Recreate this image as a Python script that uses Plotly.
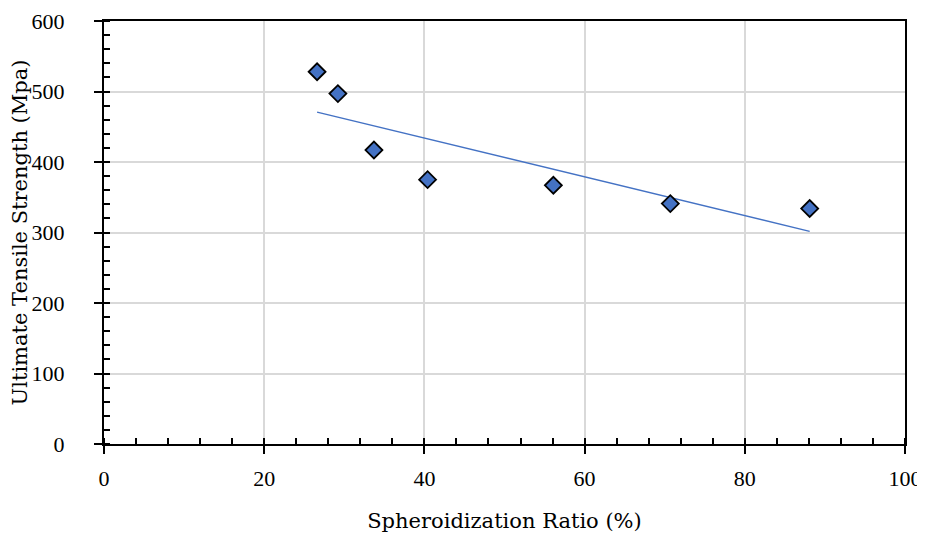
import numpy as np
import plotly.graph_objects as go

spheroidization = [26.6, 29.2, 33.7, 40.4, 56.1, 70.7, 88.1]
uts = [528, 497, 417, 375, 367, 341, 334]

x_ticks = [0, 20, 40, 60, 80, 100]
y_ticks = [0, 100, 200, 300, 400, 500, 600]

slope, intercept = np.polyfit(spheroidization, uts, 1)
trend_x = [min(spheroidization), max(spheroidization)]
trend_y = [slope * v + intercept for v in trend_x]

TICK_FONT = "Liberation Serif"
TITLE_FONT = "DejaVu Serif"
BLUE = "#4472C4"

fig = go.Figure()
fig.add_trace(go.Scatter(x=trend_x, y=trend_y, mode="lines",
                         line=dict(color=BLUE, width=1.5), showlegend=False, hoverinfo="skip"))
fig.add_trace(go.Scatter(x=spheroidization, y=uts, mode="markers",
                         marker=dict(symbol="diamond", size=13, color=BLUE,
                                     line=dict(color="black", width=1.8)),
                         showlegend=False))
fig.add_trace(go.Scatter(x=[0], y=[0], xaxis="x2", yaxis="y2", mode="markers",
                         marker=dict(opacity=0), showlegend=False, hoverinfo="skip"))

common = dict(showline=True, linecolor="black", linewidth=2, zeroline=False, automargin=False,
              tickfont=dict(family=TICK_FONT, size=22, color="black"))

# page body has an 8px margin: figure is offset by (8, 8)
fig.update_layout(
    width=917, height=525,
    margin=dict(l=96, r=20, t=13, b=89),
    paper_bgcolor="white", plot_bgcolor="white",
    xaxis=dict(range=[0, 100], tickvals=x_ticks, ticks="outside", ticklen=8, tickwidth=2,
               tickcolor="black", mirror=True, showgrid=True, gridcolor="#d9d9d9", gridwidth=1.5,
               ticklabelstandoff=6,
               minor=dict(dtick=4, ticks="inside", ticklen=6, tickwidth=2, tickcolor="black", showgrid=False),
               title=dict(text="Spheroidization Ratio (%)", font=dict(family=TITLE_FONT, size=21, color="black"),
                          standoff=26),
               **common),
    yaxis=dict(range=[0, 600], tickvals=y_ticks, ticks="outside", ticklen=8, tickwidth=2,
               tickcolor="black", mirror=True, showgrid=True, gridcolor="#d9d9d9", gridwidth=1.5,
               ticklabelstandoff=25,
               minor=dict(dtick=20, ticks="inside", ticklen=6, tickwidth=2, tickcolor="black", showgrid=False),
               title=dict(text="Ultimate Tensile Strength (Mpa)", font=dict(family=TITLE_FONT, size=21, color="black"),
                          standoff=5),
               **common),
    xaxis2=dict(overlaying="x", matches="x", anchor="y2", side="bottom", range=[0, 100],
                tickvals=x_ticks, ticks="inside", ticklen=6, tickwidth=2, tickcolor="black",
                showticklabels=False, showgrid=False, zeroline=False, showline=False, automargin=False),
    yaxis2=dict(overlaying="y", matches="y", anchor="x2", side="left", range=[0, 600],
                tickvals=y_ticks, ticks="inside", ticklen=6, tickwidth=2, tickcolor="black",
                showticklabels=False, showgrid=False, zeroline=False, showline=False, automargin=False),
)

fig.write_html("out.html")
